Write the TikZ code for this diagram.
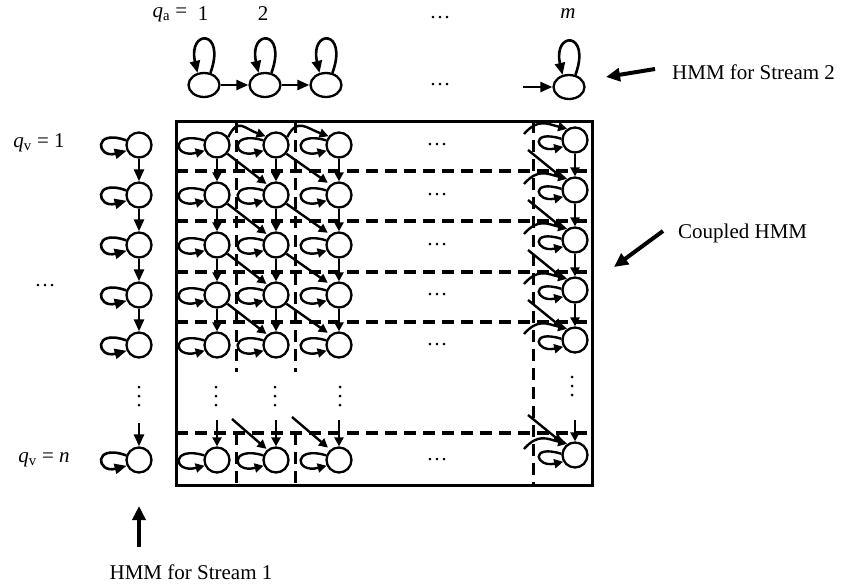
\documentclass[tikz,border=0pt]{standalone}
\usepackage{fontspec}
\setmainfont{Liberation Serif}
\usetikzlibrary{arrows.meta,shapes.geometric}

\begin{document}
\begin{tikzpicture}[x=1pt,y=-1pt,
  every node/.style={font=\fontsize{21}{24}\selectfont},
  st/.style={circle,draw,fill=white,line width=2.3pt,minimum size=25pt,inner sep=0pt},
  est/.style={ellipse,draw,fill=white,line width=2.3pt,minimum width=31pt,minimum height=24pt,inner sep=0pt},
  tr/.style={line width=2.4pt,-{Triangle[length=9pt,width=9pt]}},
  trbig/.style={line width=2.6pt,-{Triangle[length=12pt,width=10pt]}},
  pointer/.style={line width=4pt,-{Triangle[length=14pt,width=13pt]}},
  hgrid/.style={line width=3.4pt,dash pattern=on 12pt off 7pt},
  vgrid/.style={line width=3pt,dash pattern=on 12pt off 7pt},
  lbl/.style={inner sep=0pt},
  dot/.style={fill,circle,inner sep=0pt,minimum size=3pt},
  vdts/.pic={\node[dot] at (0,-9) {}; \node[dot] at (0,0) {}; \node[dot] at (0,9) {};},
]
\useasboundingbox (0,0) rectangle (850,586);

% ---------- stream 2 (top chain) ----------
\node[lbl] (qa) at (170,15) {{\itshape q}\textsubscript{a} =};
\node[lbl] (n1) at (203,14) {1};
\node[lbl] (n2) at (263,14) {2};
\node[lbl] (ntop) at (440,18) {\dots};
\node[lbl] (nm) at (568,14) {\itshape m};

\node[est] (t1) at (204,85) {};
\node[est] (t2) at (265,85) {};
\node[est] (t3) at (326,85) {};
\node[est] (tm) at (569,87) {};
\node[lbl] (tdots) at (440,85) {\dots};
\coordinate (tin) at (523,87);

\draw[trbig] (t1) -- (t2);
\draw[trbig] (t2) -- (t3);
\draw[trbig] (tin) -- (tm.west);
\foreach \t in {t1,t2,t3,tm}
  \draw[trbig] (\t.62) .. controls +(16,-44) and +(-10,-44) .. (\t.118);

% pointer labels
\coordinate (p2s) at (655,69);
\coordinate (p2e) at (606,77);
\draw[pointer] (p2s) -- (p2e);
\node[lbl,anchor=west] (s2) at (672,72) {HMM for Stream 2};

\coordinate (pcs) at (663,231);
\coordinate (pce) at (614,267);
\draw[pointer] (pcs) -- (pce);
\node[lbl,anchor=west] (cp) at (678,233) {Coupled HMM};

\coordinate (p1s) at (139,547);
\coordinate (p1e) at (139,506);
\draw[pointer] (p1s) -- (p1e);
\node[lbl] (s1) at (191,572) {HMM for Stream 1};

% ---------- coupled HMM frame and dashed grid ----------
\foreach \y in {171,221,272,322,433}
  \draw[hgrid] (176,\y) -- (592,\y);
\foreach \x in {236,295} {
  \draw[vgrid] (\x,121) -- (\x,372);
  \draw[vgrid] (\x,433) -- (\x,485);
}
\draw[vgrid] (533,121) -- (533,485);
\draw[line width=3pt] (176,121) rectangle (592,485);

% ---------- stream 1 (left chain) ----------
\node[lbl] (qv1) at (39,143) {{\itshape q}\textsubscript{v} = 1};
\node[lbl] (qvn) at (44,460) {{\itshape q}\textsubscript{v} = \textit{n}};
\node[lbl] (ldots) at (45,286) {\dots};

\foreach \i/\y in {1/145,2/195,3/245,4/295,5/345,n/460}
  \node[st] (l\i) at (139,\y) {};
\foreach \i/\k in {1/2,2/3,3/4,4/5}
  \draw[trbig] (l\i.south) -- (l\k.north);
\coordinate (lin) at (139,423);
\draw[trbig] (lin) -- (ln.north);
\foreach \i in {1,2,3,4,5,n}
  \draw[trbig] (l\i.160) .. controls +(-34,-12) and +(-30,8) .. (l\i.205);

% ---------- coupled states ----------
\foreach \i/\y in {1/145,2/195,3/245,4/295,5/345,n/460} {
  \foreach \j/\x in {1/217,2/276,3/339}
    \node[st] (g\i\j) at (\x,\y) {};
  \node[st] (g\i m) at (575,\y-5) {};
  \node[lbl] (h\i) at (437,\y) {\dots};
}

% vertical dots
\foreach \x/\y in {139/396,216/396,275/396,340/396,572/386}
  \pic at (\x,\y) {vdts};

% self transitions
\foreach \i in {1,2,3,4,5,n} {
  \foreach \j in {1,2,3}
    \draw[tr] (g\i\j.160) .. controls +(-34,-10) and +(-32,8) .. (g\i\j.205);
  \draw[tr] (g\i m.175) .. controls +(-32,-10) and +(-28,6) .. (g\i m.210);
}

% stream 1 transitions (down) and joint transitions (diagonal)
\foreach \i/\k in {1/2,2/3,3/4,4/5} {
  \foreach \j in {1,2,3,m}
    \draw[tr] (g\i\j.south) -- (g\k\j.north);
  \draw[tr,shorten >=1pt] (g\i1.-40) -- (g\k2.130);
  \draw[tr,shorten >=3pt] (g\i2.-40) -- (g\k3.130);
}
\foreach \j/\x in {1/217,2/276,3/339,m/575}
  \coordinate (in\j) at (\x,420);
\foreach \j in {1,2,3,m}
  \draw[tr] (in\j) -- (gn\j.north);
\coordinate (dn2) at (232,419);
\coordinate (dn3) at (292,417);
\draw[tr,shorten >=1pt] (dn2) -- (gn2.130);
\draw[tr,shorten >=3pt] (dn3) -- (gn3.130);

% stream 2 transitions in the first row
\draw[tr] (g11.35) .. controls +(10,-20) and +(-22,-8) .. (g12.140);
\draw[tr] (g12.35) .. controls +(10,-20) and +(-22,-8) .. (g13.140);

% transitions entering the last column
\foreach \i/\y in {1/140,2/190,3/240,4/290,5/340,n/455} {
  \coordinate (ar\i) at (524,\y-6);
  \draw[tr] (ar\i) .. controls +(14,-16) and +(-20,-5) .. (g\i m.125);
}
\foreach \i/\y in {2/190,3/240,4/290,5/340,n/455} {
  \coordinate (dg\i) at (528,\y-40);
  \draw[tr,shorten >=4pt] (dg\i) -- (g\i m.135);
}
\end{tikzpicture}
\end{document}
